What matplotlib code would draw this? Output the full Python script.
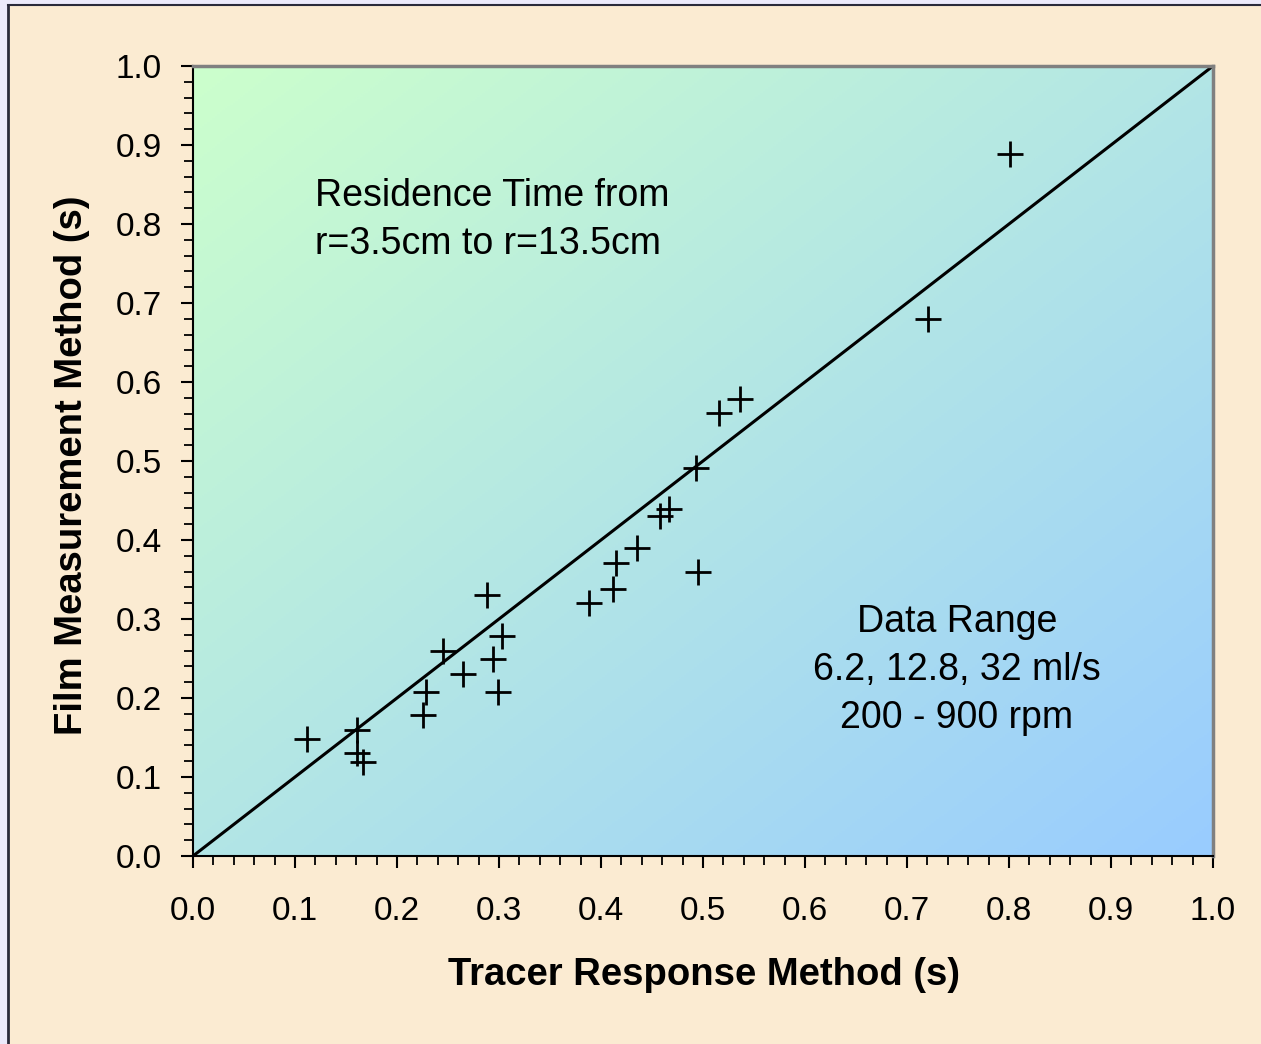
import numpy as np
import matplotlib
matplotlib.use("Agg")
import matplotlib.pyplot as plt
from matplotlib.patches import Rectangle
from matplotlib.colors import LinearSegmentedColormap
from matplotlib.ticker import MultipleLocator

tracer = [0.112, 0.161, 0.161, 0.167, 0.225, 0.228, 0.245, 0.265, 0.288, 0.303,
          0.294, 0.299, 0.388, 0.412, 0.415, 0.435, 0.458, 0.467, 0.493, 0.495,
          0.516, 0.536, 0.721, 0.801]
film = [0.148, 0.159, 0.130, 0.119, 0.178, 0.207, 0.260, 0.230, 0.330, 0.278,
        0.249, 0.207, 0.320, 0.338, 0.371, 0.390, 0.431, 0.439, 0.491, 0.360,
        0.561, 0.579, 0.680, 0.889]
ticks = [0.0, 0.1, 0.2, 0.3, 0.4, 0.5, 0.6, 0.7, 0.8, 0.9, 1.0]
tick_labels = [f"{t:.1f}" for t in ticks]

plt.rcParams['font.family'] = ['Liberation Sans', 'DejaVu Sans']

W, H = 1261, 1044
fig = plt.figure(figsize=(W / 100, H / 100), dpi=100)
fig.patch.set_facecolor('#ECEAFB')
bg = Rectangle((8 / W, 0), 1, 1 - 5 / H, transform=fig.transFigure,
               facecolor='#FBEBD2', edgecolor='none', zorder=-10)
fig.patches.append(bg)
fig.add_artist(plt.Line2D([7.5 / W, 7.5 / W], [0, 1 - 4.5 / H], color='#2a2a3a', lw=2,
                          transform=fig.transFigure))
fig.add_artist(plt.Line2D([7.5 / W, 1], [1 - 4.5 / H, 1 - 4.5 / H], color='#2a2a3a', lw=1.5,
                          transform=fig.transFigure))

ax = fig.add_axes([193 / W, 1 - 856 / H, (1213 - 193) / W, (856 - 66) / H])

# diagonal gradient background
n = 400
u = np.linspace(0, 1, n)
U, V = np.meshgrid(u, u)
T = (U + (1 - V)) / 2
cmap = LinearSegmentedColormap.from_list('g', ['#CCFFCC', '#99CCFF'])
ax.imshow(T, extent=[0, 1, 1, 0], cmap=cmap, aspect='auto', zorder=0,
          interpolation='bilinear')
ax.set_xlim(0, 1)
ax.set_ylim(0, 1)

ax.plot([0, 1], [0, 1], color='black', lw=2.2, zorder=2, solid_capstyle='round')
ax.plot(tracer, film, linestyle='none', marker='+', color='black',
        markersize=19, mew=2.0, zorder=3)

for s in ['top', 'right']:
    ax.spines[s].set_color('#808080')
    ax.spines[s].set_linewidth(2.5)
for s in ['left', 'bottom']:
    ax.spines[s].set_color('black')
    ax.spines[s].set_linewidth(1.5)

ax.set_xticks(ticks)
ax.set_xticklabels(tick_labels)
ax.set_yticks(ticks)
ax.set_yticklabels(tick_labels)
ax.xaxis.set_minor_locator(MultipleLocator(0.02))
ax.yaxis.set_minor_locator(MultipleLocator(0.02))
ax.tick_params(which='major', direction='out', length=8.6, width=1.5, labelsize=24,
               color='black')
ax.tick_params(which='minor', direction='out', length=6.2, width=1.3, color='black')
ax.tick_params(axis='x', which='major', pad=20)
ax.tick_params(axis='y', which='major', pad=14)

ax.text(0.1196, 0.805, "Residence Time from\nr=3.5cm to r=13.5cm", fontsize=27,
        ha='left', va='center', linespacing=1.43)
ax.text(0.749, 0.235, "Data Range\n6.2, 12.8, 32 ml/s\n200 - 900 rpm", fontsize=27,
        ha='center', va='center', linespacing=1.43)

fig.text(0.558, 1 - 975 / H, "Tracer Response Method (s)", fontsize=27.5,
         fontweight='bold', ha='center', va='center')
fig.text(72 / W, 1 - 465 / H, "Film Measurement Method (s)", fontsize=27.5,
         fontweight='bold', ha='center', va='center', rotation=90)

fig.savefig('out.png', dpi=100, facecolor=fig.get_facecolor())
